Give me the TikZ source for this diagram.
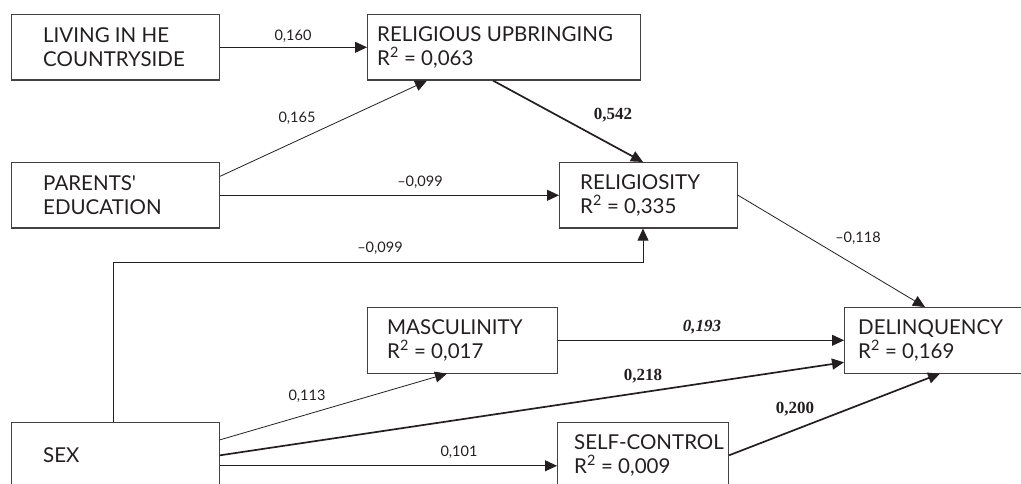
\documentclass[tikz,border=0pt]{standalone}
\usepackage{fontspec}
\setmainfont{Lato}
\newfontfamily\numserif{Liberation Serif}
\usetikzlibrary{arrows.meta,calc}
\definecolor{ink}{HTML}{231F20}
\begin{document}
\begin{tikzpicture}[x=1pt,y=-1pt,
  boxnode/.style={draw=ink!85,line width=1.1pt,minimum width=#1,inner sep=0pt,anchor=north west,minimum height=65.5pt},
  boxtext/.style={anchor=west,align=left,inner sep=0pt,text=ink,font=\fontsize{20.5}{23.5}\selectfont},
  conn/.style={draw=ink,line width=0.8pt,-{Triangle[length=12pt,width=11pt]}},
  thickconn/.style={conn,line width=1.7pt},
  plainlab/.style={inner sep=0pt,text=ink,font=\fontsize{14.5}{16}\selectfont},
  boldlab/.style={inner sep=0pt,text=ink,font=\numserif\bfseries\fontsize{17}{19}\selectfont},
  bilab/.style={inner sep=0pt,text=ink,font=\numserif\bfseries\itshape\fontsize{17}{19}\selectfont}]
\useasboundingbox (0,0) rectangle (1021,484);
\clip (0,0) rectangle (1021,484);
% boxes
\node[boxnode=208pt] (liv) at (11,14) {};
\node[boxnode=273pt] (ru) at (367,14) {};
\node[boxnode=208pt] (par) at (11,162) {};
\node[boxnode=178pt] (rel) at (559,162) {};
\node[boxnode=208pt] (sex) at (11,422) {};
\node[boxnode=190pt] (mas) at (367,307) {};
\node[boxnode=200pt] (del) at (844,307) {};
\node[boxnode=171pt] (sc) at (557,422) {};
% texts
\node[boxtext] (livt) at ($(liv.west)+(32,0)$) {LIVING IN HE\\COUNTRYSIDE};
\node[boxtext] (rut) at ($(ru.west)+(10,0)$) {RELIGIOUS UPBRINGING\\R\textsuperscript{2} = 0,063};
\node[boxtext] (part) at ($(par.west)+(32,0)$) {PARENTS\textquotesingle\\EDUCATION};
\node[boxtext] (relt) at ($(rel.west)+(21,0)$) {RELIGIOSITY\\R\textsuperscript{2} = 0,335};
\node[boxtext] (sext) at ($(sex.west)+(32,0)$) {SEX};
\node[boxtext] (mast) at ($(mas.west)+(20,0)$) {MASCULINITY\\R\textsuperscript{2} = 0,017};
\node[boxtext] (delt) at ($(del.west)+(14,0)$) {DELINQUENCY\\R\textsuperscript{2} = 0,169};
\node[boxtext] (sct) at ($(sc.west)+(17,0)$) {SELF-CONTROL\\R\textsuperscript{2} = 0,009};
% connection points
\coordinate (parup) at ($(par.east)+(0,-19)$);
\coordinate (rubot) at ($(ru.south west)+(60,0)$);
\coordinate (ruout) at ($(ru.south west)+(126,0)$);
\coordinate (reltop) at ($(rel.north west)+(84,0)$);
\coordinate (relbot) at ($(rel.south west)+(84,0)$);
\coordinate (sextop) at ($(sex.north west)+(102,0)$);
\coordinate (c1) at (113,262);
\coordinate (c2) at (643,262);
\coordinate (deltop) at ($(del.north west)+(81,0)$);
\coordinate (delin) at ($(del.west)+(0,22)$);
\coordinate (delbot) at ($(del.south west)+(96,0)$);
\coordinate (sexup) at ($(sex.east)+(0,-15.5)$);
\coordinate (sexdn) at ($(sex.east)+(0,10.5)$);
\coordinate (scin) at ($(sc.west)+(0,10.5)$);
\coordinate (masbot) at ($(mas.south west)+(80,0)$);
% connectors
\draw[conn] (liv.east) -- (ru.west);
\draw[conn] (parup) -- (rubot);
\draw[conn] (par.east) -- (rel.west);
\draw[thickconn] (ruout) -- (reltop);
\draw[conn] (sextop) -- (c1) -- (c2) -- (relbot);
\draw[conn] (rel.east) -- (deltop);
\draw[conn] (mas.east) -- (del.west);
\draw[thickconn] (sex.east) -- (delin);
\draw[conn] (sexup) -- (masbot);
\draw[conn] (sexdn) -- (scin);
\draw[thickconn] (sc.east) -- (delbot);
% labels
\node[plainlab] (l1) at (293,36) {0,160};
\node[plainlab] (l2) at (297,118) {0,165};
\node[plainlab] (l3) at (420,182) {--0,099};
\node[boldlab] (l4) at (613,115) {0,542};
\node[plainlab] (l5) at (380,248) {--0,099};
\node[plainlab] (l6) at (858,238) {--0,118};
\node[bilab] (l7) at (702,327) {0,193};
\node[boldlab] (l8) at (643,376) {0,218};
\node[plainlab] (l9) at (307,396) {0,113};
\node[plainlab] (l10) at (459,452) {0,101};
\node[boldlab] (l11) at (795,409) {0,200};
\end{tikzpicture}
\end{document}
